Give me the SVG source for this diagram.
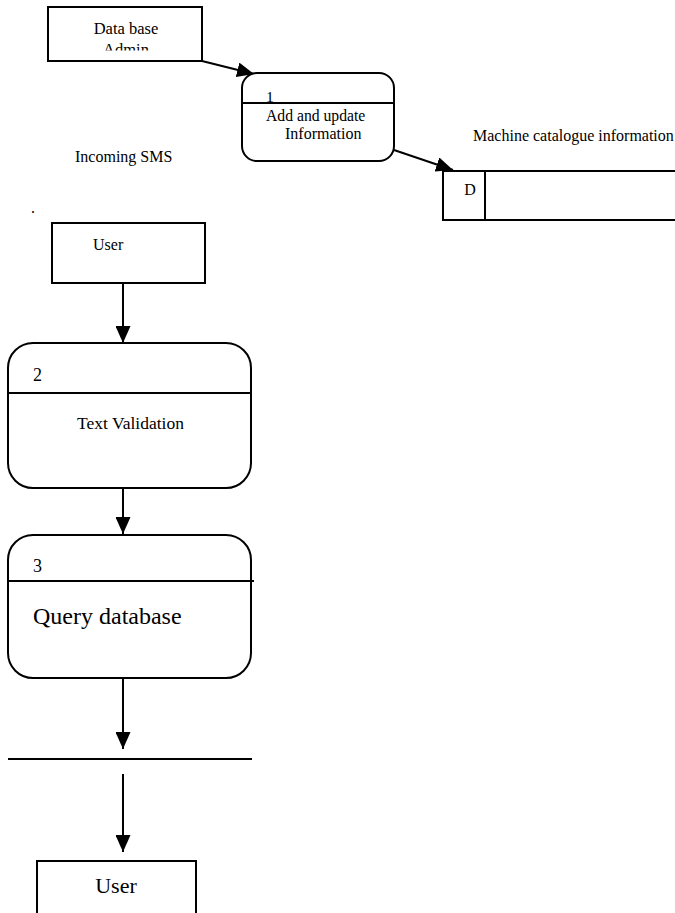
<svg xmlns="http://www.w3.org/2000/svg" width="675" height="913" viewBox="0 0 675 913">
<style>
.b{fill:#fff;stroke:#000;stroke-width:2}
.l{fill:none;stroke:#000;stroke-width:2}
.t{font-family:"Liberation Serif","Times New Roman",serif;fill:#000}
</style>
<defs>
<marker id="ah" markerUnits="userSpaceOnUse" markerWidth="17" markerHeight="15" refX="17" refY="7.5" orient="auto">
<path d="M0,0 L17,7.5 L0,15 z" fill="#000"/>
</marker>
<clipPath id="cp"><rect x="48" y="7" width="154" height="43.5"/></clipPath>
</defs>
<rect width="675" height="913" fill="#fff"/>
<g id="connectors">
<line class="l" x1="202" y1="61" x2="254" y2="74" marker-end="url(#ah)"/>
<line class="l" x1="394" y1="150" x2="453" y2="170" marker-end="url(#ah)"/>
<line class="l" x1="123" y1="283" x2="123" y2="343" marker-end="url(#ah)"/>
<line class="l" x1="123" y1="485" x2="123" y2="534" marker-end="url(#ah)"/>
<line class="l" x1="123" y1="675" x2="123" y2="749" marker-end="url(#ah)"/>
<line class="l" x1="123" y1="774" x2="123" y2="852" marker-end="url(#ah)"/>
</g>
<g id="admin">
<rect class="b" x="48" y="7" width="154" height="54"/>
<text class="t" x="126" y="34" font-size="16.5" text-anchor="middle">Data base</text>
<text class="t" x="126" y="55" font-size="16.5" text-anchor="middle" clip-path="url(#cp)">Admin</text>
</g>
<g id="p1">
<rect class="b" x="242" y="73" width="152" height="88" rx="15"/>
<line class="l" x1="242" y1="103" x2="394" y2="103"/>
<text class="t" x="266" y="102" font-size="15.5">1</text>
<text class="t" x="266" y="121" font-size="15.7">Add and update</text>
<text class="t" x="285" y="139" font-size="16">Information</text>
</g>
<g id="store">
<rect class="b" x="443" y="171" width="42" height="49"/>
<line class="l" x1="485" y1="171" x2="675" y2="171"/>
<line class="l" x1="443" y1="220" x2="675" y2="220"/>
<text class="t" x="470" y="195" font-size="16" text-anchor="middle">D</text>
<text class="t" x="473" y="141" font-size="16">Machine catalogue information</text>
</g>
<g id="labels">
<text class="t" x="75" y="162" font-size="16">Incoming SMS</text>
<text class="t" x="31" y="213" font-size="16">.</text>
</g>
<g id="user1">
<rect class="b" x="52" y="223" width="153" height="60"/>
<text class="t" x="93" y="250" font-size="16">User</text>
</g>
<g id="p2">
<rect class="b" x="8" y="343" width="243" height="145" rx="25"/>
<line class="l" x1="8" y1="393" x2="251" y2="393"/>
<text class="t" x="33" y="381" font-size="18">2</text>
<text class="t" x="130.5" y="429" font-size="17.5" text-anchor="middle">Text Validation</text>
</g>
<g id="p3">
<rect class="b" x="8" y="535" width="243" height="143" rx="25"/>
<line class="l" x1="8" y1="581" x2="254" y2="581"/>
<text class="t" x="33" y="572" font-size="18">3</text>
<text class="t" x="33" y="624" font-size="24">Query database</text>
</g>
<g id="store2">
<line class="l" x1="8" y1="759" x2="252" y2="759"/>
</g>
<g id="user2">
<path class="l" d="M37,913 V861 H196 V913"/>
<text class="t" x="116" y="893" font-size="22" text-anchor="middle">User</text>
</g>
</svg>
